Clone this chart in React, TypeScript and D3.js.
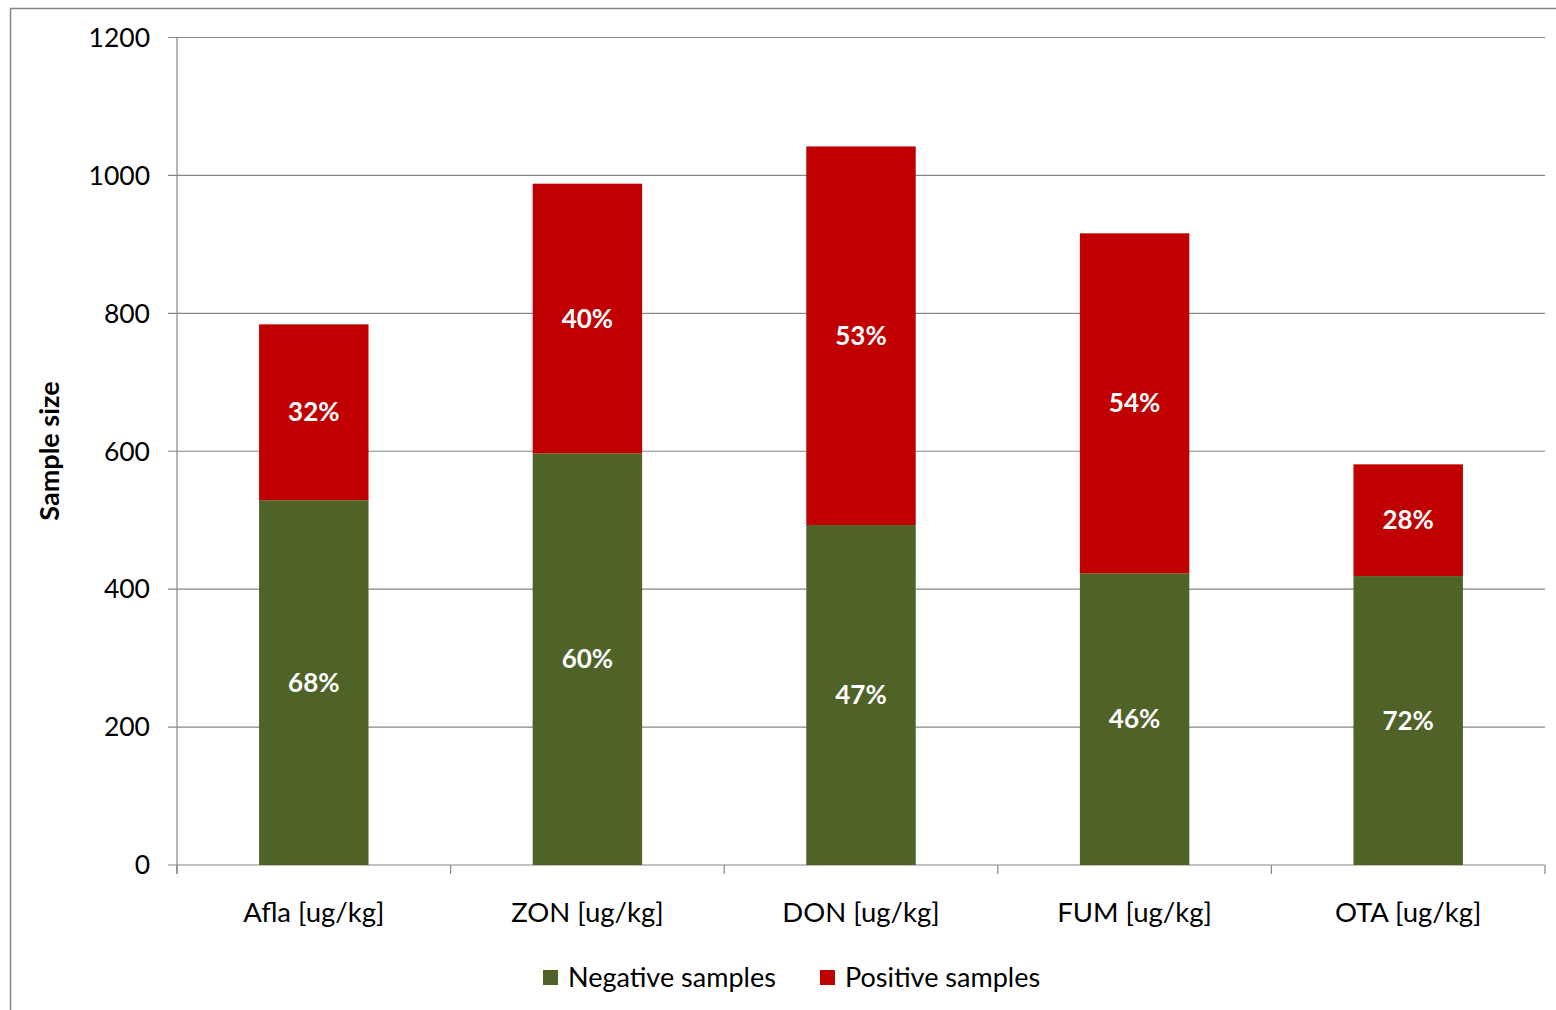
import React from "react";
import * as d3 from "d3";

const categories = ["Afla [ug/kg]", "ZON [ug/kg]", "DON [ug/kg]", "FUM [ug/kg]", "OTA [ug/kg]"];
const negativeValues = [529, 597, 493, 423, 419];
const positiveValues = [255, 391, 549, 493, 162];
const negativeLabels = ["68%", "60%", "47%", "46%", "72%"];
const positiveLabels = ["32%", "40%", "53%", "54%", "28%"];
const yTicks = [0, 200, 400, 600, 800, 1000, 1200];
const seriesNames = ["Negative samples", "Positive samples"];
const colors = ["#4F6228", "#C00000"];

const FONT = "Lato, 'Open Sans', sans-serif";

export default function App() {
  const W = 1556, H = 1010;
  const left = 177, right = 1545, top = 37.5, bottom = 865;
  const x = d3.scaleBand<string>().domain(categories).range([left, right]).paddingInner(0.6).paddingOuter(0.3);
  const y = d3.scaleLinear().domain([0, 1200]).range([bottom, top]);
  const step = x.step();
  const boundaries = d3.range(categories.length + 1).map((i) => left + i * step);

  return (
    <svg width={W} height={H} style={{ position: "absolute", left: 0, top: 0 }} fontFamily={FONT}>
      <rect x={0} y={0} width={W} height={H} fill="#fff" />
      <rect x={10.5} y={8.5} width={W + 20} height={H + 20} fill="none" stroke="#868686" strokeWidth={1.5} />
      {yTicks.map((t) => (
        <g key={t}>
          <line x1={168} x2={right} y1={y(t)} y2={y(t)} stroke="#868686" strokeWidth={1.2} />
          <text x={150} y={y(t)} dy="0.35em" textAnchor="end" fontSize={26.5} fill="#000">{t}</text>
        </g>
      ))}
      <line x1={left} x2={left} y1={top} y2={bottom + 9} stroke="#868686" strokeWidth={1.2} />
      {boundaries.map((b, i) => (
        <line key={i} x1={b} x2={b} y1={bottom} y2={bottom + 9} stroke="#868686" strokeWidth={1.2} />
      ))}
      {categories.map((c, i) => {
        const bx = x(c)!;
        const bw = x.bandwidth();
        const n = negativeValues[i];
        const p = positiveValues[i];
        return (
          <g key={c}>
            <rect x={bx} width={bw} y={y(n)} height={y(0) - y(n)} fill={colors[0]} />
            <rect x={bx} width={bw} y={y(n + p)} height={y(n) - y(n + p)} fill={colors[1]} />
            <text x={bx + bw / 2} y={(y(0) + y(n)) / 2} dy="0.35em" textAnchor="middle" fontSize={26} fontWeight="bold" fill="#fff">{negativeLabels[i]}</text>
            <text x={bx + bw / 2} y={(y(n) + y(n + p)) / 2} dy="0.35em" textAnchor="middle" fontSize={26} fontWeight="bold" fill="#fff">{positiveLabels[i]}</text>
            <text x={bx + bw / 2} y={912} dy="0.35em" textAnchor="middle" fontSize={27.5} fill="#000">{c}</text>
          </g>
        );
      })}
      <text transform={`translate(50,451) rotate(-90)`} dy="0.35em" textAnchor="middle" fontSize={27} fontWeight="bold" fill="#000">Sample size</text>
      {seriesNames.map((s, i) => {
        const lx = [543, 820][i];
        return (
          <g key={s}>
            <rect x={lx} y={970} width={15} height={15} fill={colors[i]} />
            <text x={lx + 25} y={978} dy="0.35em" fontSize={27} fill="#000">{s}</text>
          </g>
        );
      })}
    </svg>
  );
}
